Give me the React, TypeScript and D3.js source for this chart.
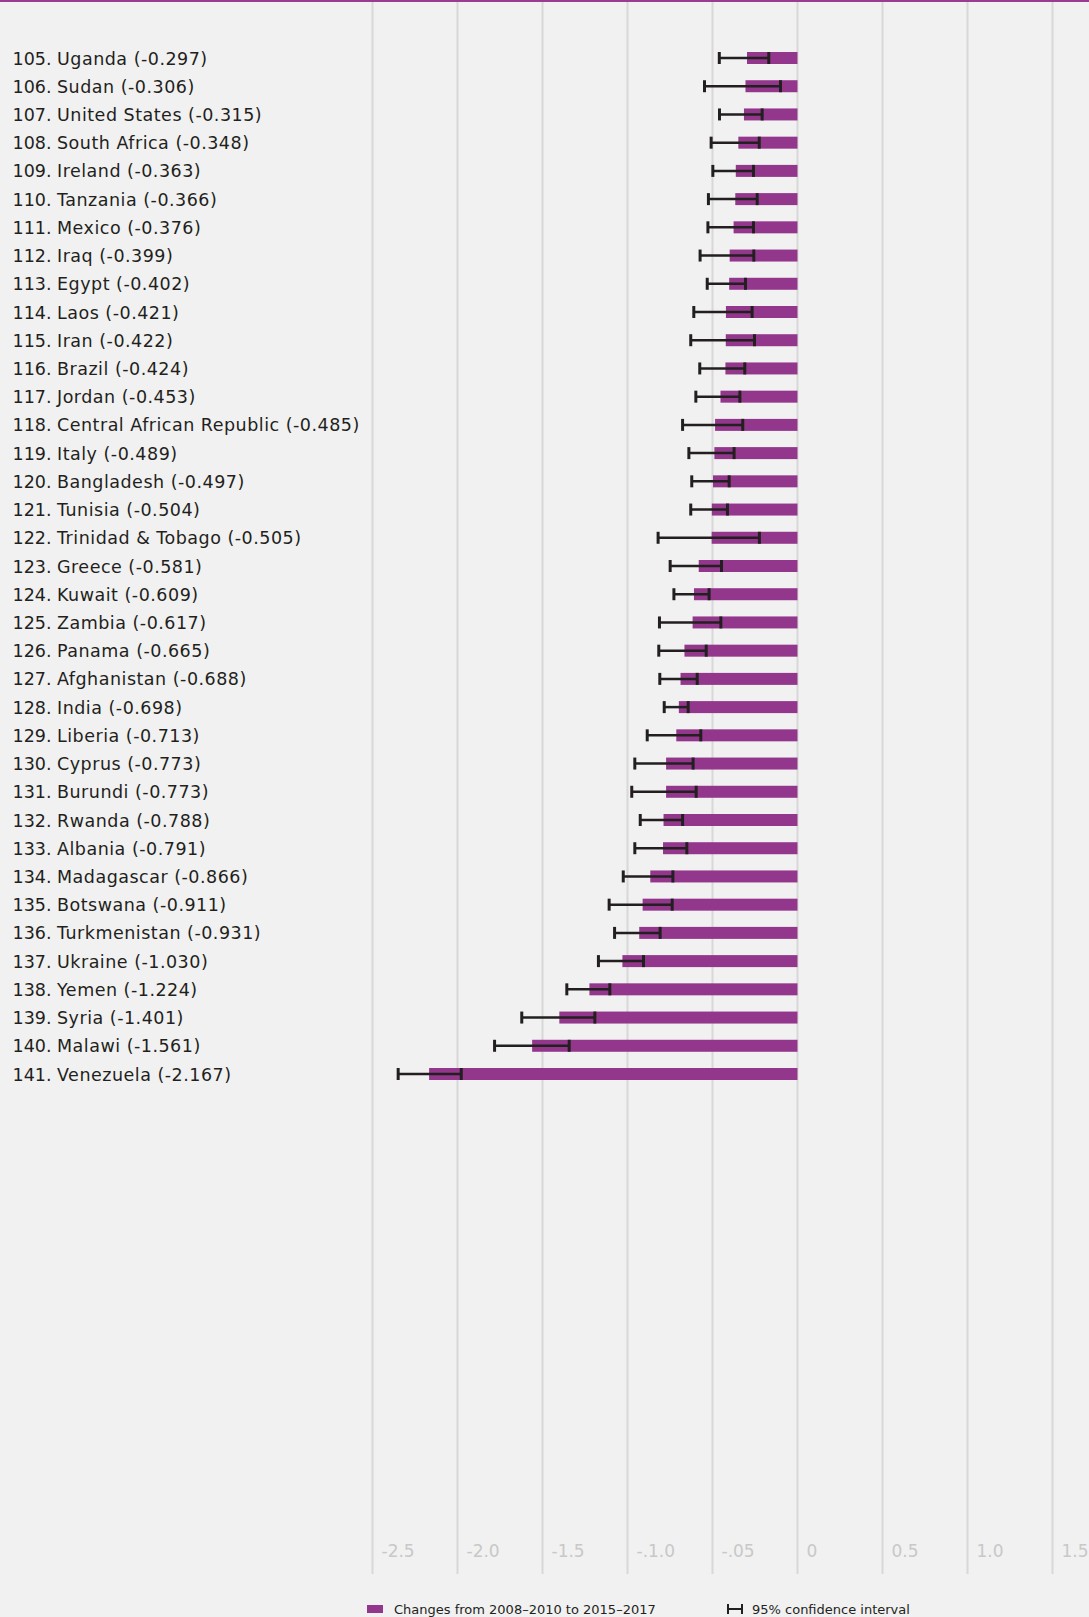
import React from "react";
import * as d3 from "d3";

const ranks = [105,106,107,108,109,110,111,112,113,114,115,116,117,118,119,120,121,122,123,124,125,126,127,128,129,130,131,132,133,134,135,136,137,138,139,140,141];
const countries = ["Uganda","Sudan","United States","South Africa","Ireland","Tanzania","Mexico","Iraq","Egypt","Laos","Iran","Brazil","Jordan","Central African Republic","Italy","Bangladesh","Tunisia","Trinidad & Tobago","Greece","Kuwait","Zambia","Panama","Afghanistan","India","Liberia","Cyprus","Burundi","Rwanda","Albania","Madagascar","Botswana","Turkmenistan","Ukraine","Yemen","Syria","Malawi","Venezuela"];
const values = [-0.297,-0.306,-0.315,-0.348,-0.363,-0.366,-0.376,-0.399,-0.402,-0.421,-0.422,-0.424,-0.453,-0.485,-0.489,-0.497,-0.504,-0.505,-0.581,-0.609,-0.617,-0.665,-0.688,-0.698,-0.713,-0.773,-0.773,-0.788,-0.791,-0.866,-0.911,-0.931,-1.030,-1.224,-1.401,-1.561,-2.167];
const ciLow = [-0.460,-0.547,-0.459,-0.508,-0.498,-0.524,-0.527,-0.573,-0.531,-0.610,-0.628,-0.575,-0.598,-0.676,-0.639,-0.622,-0.628,-0.820,-0.749,-0.727,-0.812,-0.816,-0.810,-0.784,-0.884,-0.957,-0.975,-0.925,-0.957,-1.025,-1.108,-1.076,-1.171,-1.357,-1.622,-1.782,-2.349];
const ciHigh = [-0.169,-0.100,-0.208,-0.225,-0.259,-0.237,-0.259,-0.257,-0.306,-0.267,-0.253,-0.310,-0.339,-0.322,-0.373,-0.402,-0.412,-0.224,-0.447,-0.520,-0.451,-0.537,-0.590,-0.643,-0.569,-0.614,-0.596,-0.676,-0.651,-0.733,-0.737,-0.808,-0.906,-1.104,-1.192,-1.343,-1.978];
const tickValues = [-2.5,-2.0,-1.5,-1.0,-0.5,0,0.5,1.0,1.5];
const tickLabels = ["-2.5","-2.0","-1.5","-.1.0","-.05","0","0.5","1.0","1.5"];
const legendBarLabel = "Changes from 2008–2010 to 2015–2017";
const legendCiLabel = "95% confidence interval";

const W = 1089;
const H = 1617;
const PURPLE = "#93378c";
const FONT = "'DejaVu Sans', sans-serif";

export default function App() {
  const x = d3.scaleLinear().domain([-2.5, 1.5]).range([372.5, 1052.5]);
  const y = d3.scalePoint<string>().domain(countries).range([58, 1074]);
  const barH = 12;
  const capH = 12;
  return (
    <svg width={W} height={H} style={{ position: "absolute", left: 0, top: 0, display: "block" }}>
      <rect x={0} y={0} width={W} height={H} fill="#f1f1f1" />
      {tickValues.map((t, i) => (
        <g key={"g" + i}>
          <line x1={x(t)} x2={x(t)} y1={0} y2={1574} stroke="#d8d8d8" strokeWidth={2} />
          <text x={x(t) + 9} y={1557} fontFamily={FONT} fontSize={17} fill="#c8c8c8">{tickLabels[i]}</text>
        </g>
      ))}
      <rect x={0} y={0} width={W} height={2} fill="#9b3c93" />
      {countries.map((c, i) => {
        const cy = y(c) as number;
        return (
          <g key={c}>
            <text x={12.5} y={cy + 6.5} fontFamily={FONT} fontSize={17.5} fill="#231f20">{ranks[i] + "."}</text>
            <text x={57} y={cy + 6.5} fontFamily={FONT} fontSize={17.5} letterSpacing={0.5} fill="#231f20">{`${c} (${values[i].toFixed(3)})`}</text>
            <rect x={x(values[i])} y={cy - barH / 2} width={x(0) - x(values[i])} height={barH} fill={PURPLE} />
            <line x1={x(ciLow[i])} x2={x(ciHigh[i])} y1={cy} y2={cy} stroke="#231f20" strokeWidth={2.5} />
            <line x1={x(ciLow[i])} x2={x(ciLow[i])} y1={cy - capH / 2} y2={cy + capH / 2} stroke="#231f20" strokeWidth={3} />
            <line x1={x(ciHigh[i])} x2={x(ciHigh[i])} y1={cy - capH / 2} y2={cy + capH / 2} stroke="#231f20" strokeWidth={3} />
          </g>
        );
      })}
      <rect x={367} y={1605} width={16} height={8} fill={PURPLE} />
      <text x={394} y={1614} fontFamily={FONT} fontSize={13} fill="#231f20">{legendBarLabel}</text>
      <line x1={728} x2={742} y1={1609} y2={1609} stroke="#231f20" strokeWidth={2} />
      <line x1={728} x2={728} y1={1604} y2={1614} stroke="#231f20" strokeWidth={2} />
      <line x1={742} x2={742} y1={1604} y2={1614} stroke="#231f20" strokeWidth={2} />
      <text x={752} y={1614} fontFamily={FONT} fontSize={13} fill="#231f20">{legendCiLabel}</text>
    </svg>
  );
}
